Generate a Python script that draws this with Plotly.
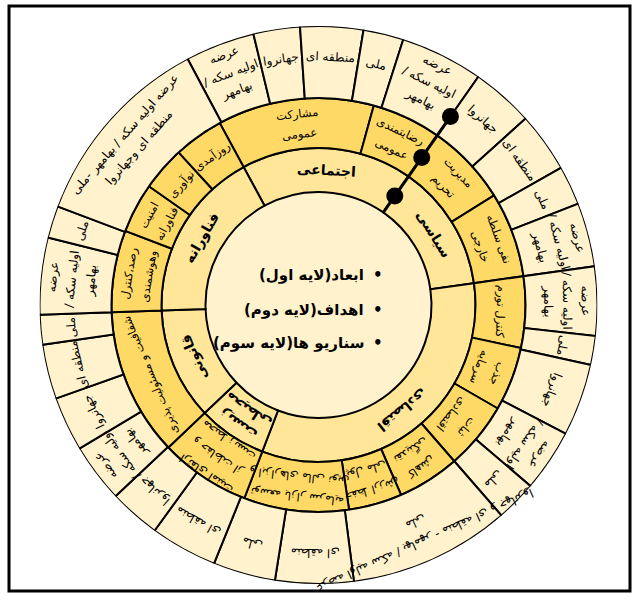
import math
import plotly.graph_objects as go

W, H = 638, 601
CX, CY = 318.5, 305.0
R0, R1, R2, R3 = 113, 157, 207, 279

# ---------------- data ----------------
center_lines = ["ابعاد(لایه اول)", "اهداف(لایه دوم)", "سناریو ها(لایه سوم)"]

dim_start = 331.5
dim_labels = ["اجتماعی", "سیاسی", "اقتصادی", "زیست<br>محیطی", "قانونی", "فناورانه"]
dim_spans = [63.5, 47, 119, 25.5, 41.5, 63.5]

goal_start = 331.5
goal_labels = [
    "مشارکت<br>عمومی", "رضایتمندی<br>عمومی", "مدیریت<br>تحریم", "نفی سلطه<br>خارجی",
    "کنترل تورم", "جذب<br>سرمایه", "ثبات<br>اقتصادی", "کاهش<br>نقدینگی",
    "حفظ ارزش<br>پول ملی", "توسعه بازار سرمایه<br>و ابزارهای مالی نوین",
    "ارتقای امنیت<br>و حفاظت از<br>محیط زیست", "شفافیت و مسئولیت پذیری",
    "رصد،کنترل<br>وهوشمندی", "امنیت<br>فناورانه", "نوآوری", "روزآمدی",
]
goal_spans = [44, 19.5, 23, 24, 20, 18, 19, 17.5, 15, 29.5, 25.5, 41.5, 23, 14, 12.5, 14]

S3 = "عرضه<br>اولیه سکه /<br>بهامهر"
scen_start = 332
scen_labels = [
    S3, "جهانروا", "منطقه ای", "ملی", S3, "جهانروا", "منطقه ای", "ملی", S3,
    S3, "ملی", "جهانروا", S3, "ملی",
    "عرضه اولیه سکه / بهامهر - منطقه ای و جهانروا<br>ملی",
    "منطقه ای", "ملی", "منطقه ای", "جهانروا", S3, "جهانروا", "منطقه ای", "ملی",
    S3, "ملی", "عرضه اولیه سکه / بهامهر -ملی<br>منطقه ای وجهانروا",
]
scen_spans = [14.5, 9.7, 13.1, 8.4, 17.3, 13, 12.5, 8.2, 13.3,
              14.4, 6, 15.1, 13, 8.5, 33.7,
              16.3, 13, 14, 10.7, 12.3, 11.4, 11.4, 6.2,
              16, 6.7, 41.3]

marker_angle = 35
marker_radii = [133, 180, 230]

# ---------------- helpers ----------------
def centers(start, spans):
    out, a = [], start
    for s in spans:
        out.append((a + s / 2) % 360)
        a += s
    return out

def to_paper(r, th):
    t = math.radians(th)
    x = CX + r * math.sin(t)
    y = CY - r * math.cos(t)
    return x / W, 1 - y / H

FONT = "DejaVu Sans"
fig = go.Figure()

# centre disk
fig.add_trace(go.Barpolar(r=[R0], base=[0], theta=[0], width=[360],
                          marker=dict(color="#FFF2CC", line=dict(width=0)),
                          hoverinfo="skip"))

rings = [
    (dim_start, dim_spans, R0, R1, "#FFE699"),
    (goal_start, goal_spans, R1, R2, "#FFD966"),
    (scen_start, scen_spans, R2, R3, "#FFF2CC"),
]
for start, spans, rin, rout, col in rings:
    n = len(spans)
    fig.add_trace(go.Barpolar(
        r=[rout - rin] * n, base=[rin] * n, theta=centers(start, spans), width=spans,
        marker=dict(color=col, line=dict(color="black", width=2)),
        hoverinfo="skip"))

# marker line with dots
fig.add_trace(go.Scatterpolar(r=[R0, marker_radii[-1]], theta=[marker_angle] * 2,
                              mode="lines", line=dict(color="black", width=3),
                              hoverinfo="skip"))
fig.add_trace(go.Scatterpolar(r=marker_radii, theta=[marker_angle] * len(marker_radii),
                              mode="markers", marker=dict(color="black", size=17),
                              hoverinfo="skip"))

annotations = []

def add_ring_labels(start, spans, labels, rmid, size, spacing, bold=False):
    for th, lab in zip(centers(start, spans), labels):
        parts = lab.split("<br>")
        n = len(parts)
        ang = th if th <= 180 else th - 360
        for i, p in enumerate(parts):
            r = rmid + ((n - 1) / 2 - i) * spacing
            x, y = to_paper(r, th)
            txt = "\u200F" + p + "\u200F"
            if bold:
                txt = "<b>" + txt + "</b>"
            annotations.append(dict(x=x, y=y, xref="paper", yref="paper", text=txt,
                                    showarrow=False, textangle=ang, xanchor="center",
                                    yanchor="middle", align="center",
                                    font=dict(family=FONT, size=size, color="black")))

add_ring_labels(dim_start, dim_spans, dim_labels, (R0 + R1) / 2, 14, 17, bold=True)
add_ring_labels(goal_start, goal_spans, goal_labels, (R1 + R2) / 2, 11.5, 20)
add_ring_labels(scen_start, scen_spans, scen_labels, (R2 + R3) / 2 + 5, 12, 19)

# centre bullet list
line_y = [275, 310, 343]
for txt, yy in zip(center_lines, line_y):
    annotations.append(dict(x=366 / W, y=1 - yy / H, xref="paper", yref="paper",
                            text="<b>\u200F" + txt + "\u200F</b>", showarrow=False,
                            xanchor="right", yanchor="middle",
                            font=dict(family=FONT, size=15, color="black")))
    annotations.append(dict(x=378 / W, y=1 - yy / H, xref="paper", yref="paper",
                            text="<b>•</b>", showarrow=False,
                            xanchor="center", yanchor="middle",
                            font=dict(family=FONT, size=15, color="black")))

fig.update_layout(
    width=W, height=H, margin=dict(l=0, r=0, t=0, b=0),
    paper_bgcolor="white", plot_bgcolor="white", showlegend=False,
    polar=dict(
        domain=dict(x=[(CX - R3) / W, (CX + R3) / W], y=[1 - (CY + R3) / H, 1 - (CY - R3) / H]),
        bgcolor="rgba(0,0,0,0)", bargap=0,
        radialaxis=dict(range=[0, R3], visible=False, showgrid=False),
        angularaxis=dict(rotation=90, direction="clockwise", visible=False, showgrid=False),
    ),
    annotations=annotations,
    shapes=[dict(type="rect", xref="paper", yref="paper",
                 x0=9 / W, x1=630 / W, y0=1 - 591 / H, y1=1 - 6 / H,
                 line=dict(color="black", width=3))],
)

fig.write_html("out.html", config={"displayModeBar": False},
               post_script="document.body.style.margin='0';")
